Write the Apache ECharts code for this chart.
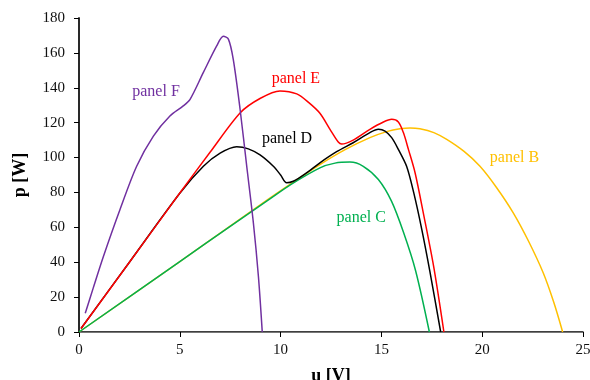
<!DOCTYPE html>
<html><head><meta charset="utf-8">
<script src="https://cdn.jsdelivr.net/npm/echarts@6/dist/echarts.min.js"></script>
<style>html,body{margin:0;padding:0;background:#fff}#c{width:590px;height:380px}</style>
</head><body><div id="c"></div>
<script>
const xTicks = [0, 5, 10, 15, 20, 25];
const yTicks = [0, 20, 40, 60, 80, 100, 120, 140, 160, 180];
const panelB = [[0,0],[5,40.3],[9.5,77],[11,88.8],[11.95,96],[13.2,104.5],[14.43,111.4],[15.3,115],[15.92,116.5],[16.42,117],[16.91,116.5],[17.6,114.3],[18.24,110.4],[19.1,103.5],[19.89,95],[20.7,83],[21.54,68.3],[22.3,52],[23.03,33.8],[23.55,17],[23.99,0]];
const panelC = [[0,0],[5,40.4],[7.5,60.5],[9.47,76.3],[10.5,84.5],[11.95,94.1],[12.7,96.8],[13.44,97.4],[14.1,95],[14.85,87.4],[15.5,75],[16.1,57],[16.7,35],[17.38,0]];
const panelD = [[0.1,2],[2.5,40],[5,79.5],[6.17,95],[7,102.5],[7.82,106.2],[8.4,105],[8.98,101.5],[9.64,95],[10,90],[10.3,85.5],[10.63,86.4],[11.2,90.5],[11.95,97],[12.8,103.5],[13.6,108.5],[14.43,114.3],[14.85,116.2],[15.18,115.2],[15.51,111.4],[15.84,104.7],[16.25,95],[16.6,80],[17,59],[17.4,35],[17.94,0]];
const panelE = [[0.1,2],[2.5,40],[5,79.7],[6.5,103],[8,125.7],[9,134],[9.97,138.2],[10.8,136.5],[11.4,131.5],[11.95,125.4],[12.45,116.2],[12.86,108.9],[13.03,107.7],[13.6,110],[14.43,116.2],[15.1,120.4],[15.51,121.9],[15.84,120.4],[16.09,114.3],[16.34,104.7],[16.67,91.3],[17.1,67],[17.6,37],[18.1,0]];
const panelF = [[0.31,10.7],[0.7,25],[1.21,43.3],[2.03,70.1],[2.86,95],[3.69,112.3],[4.51,123.8],[5.17,129.6],[5.51,133.4],[6.17,148.8],[6.83,164],[7.16,169.5],[7.41,167.9],[7.65,156.4],[7.99,127.7],[8.32,95],[8.65,62.5],[8.9,31.8],[9.09,0]];
const seriesNames = ['panel B','panel C','panel D','panel E','panel F'];
const seriesData = [panelB, panelC, panelD, panelE, panelF];
const colors = ['#FFC000','#00B050','#000000','#FF0000','#7030A0'];
const labelAt = [[21.6,100],[14.0,65.6],[10.32,111],[10.76,145],[3.82,137.5]];

const FONT = '"Liberation Serif","Times New Roman",serif';
const chart = echarts.init(document.getElementById('c'), null, {renderer:'canvas'});
const opt = {
  animation: false,
  grid: {left: 79, right: 7, top: 18, bottom: 48, containLabel: false, outerBoundsMode: 'none'},
  xAxis: [{
    type: 'value', min: xTicks[0], max: xTicks[xTicks.length-1], interval: 5,
    name: 'u [V]', nameLocation: 'middle', nameGap: 35,
    nameTextStyle: {fontFamily: FONT, fontSize: 18, fontWeight: 'bold', color: '#000'},
    axisLine: {lineStyle: {color: '#000', width: 1.5}},
    axisTick: {show: true, length: 5, lineStyle: {color: '#000'}},
    axisLabel: {fontFamily: FONT, fontSize: 15, color: '#111', margin: 11},
    splitLine: {show: false}
  },{
    type: 'value', position: 'top', min: 0, max: 25,
    axisLine: {show: true, lineStyle: {color: '#777', width: 1}},
    axisTick: {show: false}, axisLabel: {show: false}, splitLine: {show: false}
  }],
  yAxis: [{
    type: 'value', min: yTicks[0], max: yTicks[yTicks.length-1], interval: 20,
    name: 'p [W]', nameLocation: 'middle', nameGap: 50, nameRotate: 90,
    nameTextStyle: {fontFamily: FONT, fontSize: 18, fontWeight: 'bold', color: '#000'},
    axisLine: {show: true, lineStyle: {color: '#000', width: 1.5}},
    axisTick: {show: true, length: 5, lineStyle: {color: '#000'}},
    axisLabel: {fontFamily: FONT, fontSize: 15, color: '#111', margin: 14},
    splitLine: {show: false}
  },{
    type: 'value', position: 'right', min: 0, max: 180,
    axisLine: {show: true, lineStyle: {color: '#222', width: 1.5}},
    axisTick: {show: false}, axisLabel: {show: false}, splitLine: {show: false}
  }],
  series: seriesData.map((d, i) => ({
    name: seriesNames[i], type: 'line', data: d, smooth: 0.3, symbol: 'none',
    lineStyle: {color: colors[i], width: 1.5}, z: 2 + i
  }))
};
chart.setOption(opt);
const texts = labelAt.map((p, i) => {
  const px = chart.convertToPixel({xAxisIndex: 0, yAxisIndex: 0}, p);
  return {type: 'text', x: px[0], y: px[1],
    style: {text: seriesNames[i], fill: colors[i], font: '16px ' + FONT, textAlign: 'center', textVerticalAlign: 'middle'}};
});
chart.setOption({graphic: texts});
</script></body></html>
